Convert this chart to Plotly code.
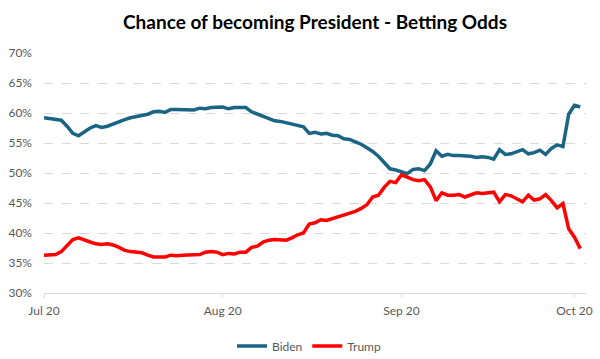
import plotly.graph_objects as go
import pandas as pd

start_date = "2020-07-01"
n_days = 94
dates = pd.date_range(start_date, periods=n_days, freq="D")

biden = [59.2, 59.1, 58.9, 58.8, 57.8, 56.6, 56.2, 56.8, 57.5, 57.9,
         57.6, 57.8, 58.2, 58.5, 58.9, 59.2, 59.4, 59.5, 59.8, 60.2,
         60.3, 60.1, 60.6, 60.6, 60.6, 60.6, 60.5, 60.8, 60.7, 60.9,
         61.0, 61.0, 60.7, 60.9, 60.9, 60.9, 60.2, 59.8, 59.4, 59.1,
         58.7, 58.6, 58.4, 58.2, 58.0, 57.7, 56.6, 56.8, 56.5, 56.6,
         56.3, 56.2, 55.7, 55.6, 55.2, 54.8, 54.2, 53.6, 52.8, 51.8,
         50.7, 50.5, 50.2, 49.9, 50.6, 50.7, 50.4, 51.5, 53.7, 52.8,
         53.1, 52.9, 52.9, 52.9, 52.8, 52.6, 52.7, 52.6, 52.3, 53.9,
         53.1, 53.2, 53.5, 53.9, 53.2, 53.4, 53.8, 53.1, 54.1, 54.7,
         54.4, 59.8, 61.3, 61.0]

trump = [36.3, 36.4, 36.4, 36.9, 37.9, 38.9, 39.2, 38.8, 38.5, 38.2,
         38.1, 38.2, 38.0, 37.6, 37.1, 36.9, 36.8, 36.7, 36.3, 36.0,
         36.0, 36.0, 36.3, 36.2, 36.3, 36.3, 36.4, 36.4, 36.8, 36.9,
         36.8, 36.4, 36.6, 36.5, 36.8, 36.8, 37.6, 37.8, 38.5, 38.8,
         38.9, 38.9, 38.8, 39.2, 39.7, 40.0, 41.5, 41.7, 42.2, 42.1,
         42.4, 42.7, 43.1, 43.3, 43.6, 44.1, 44.7, 46.0, 46.3, 47.6,
         48.6, 48.4, 49.7, 49.3, 48.9, 48.7, 48.9, 47.7, 45.4, 46.7,
         46.3, 46.3, 46.4, 46.0, 46.4, 46.7, 46.6, 46.7, 46.8, 45.2,
         46.4, 46.2, 45.7, 45.2, 46.3, 45.5, 45.7, 46.4, 45.4, 44.2,
         44.9, 40.7, 39.3, 37.4]

y_ticks = [30, 35, 40, 45, 50, 55, 60, 65, 70]
y_tick_labels = [f"{v}%" for v in y_ticks]
x_ticks = ["2020-07-01", "2020-08-01", "2020-09-01", "2020-10-01"]
x_tick_labels = ["Jul 20", "Aug 20", "Sep 20", "Oct 20"]

font_family = "Lato, Carlito, Calibri, sans-serif"
grey = "#595959"

fig = go.Figure()
fig.add_trace(go.Scatter(x=dates, y=biden, mode="lines", name="Biden",
                         line=dict(color="#1B6584", width=3.5)))
fig.add_trace(go.Scatter(x=dates, y=trump, mode="lines", name="Trump",
                         line=dict(color="#FF0000", width=3.5)))

fig.update_layout(
    width=600, height=359,
    margin=dict(l=44, r=14, t=53, b=66, autoexpand=False),
    paper_bgcolor="white", plot_bgcolor="white",
    font=dict(family=font_family, color=grey, size=12),
    title=dict(text="<b>Chance of becoming President - Betting Odds</b>",
               x=0.5, xanchor="center", xref="paper",
               yref="container", y=1 - 22 / 359, yanchor="middle",
               font=dict(family=font_family, size=19, color="black")),
    showlegend=True,
    legend=dict(orientation="h", x=0.5 - 6 / 542, xanchor="center",
                y=-53 / 240, yanchor="middle",
                font=dict(size=12, color=grey), itemwidth=30,
                traceorder="normal"),
    xaxis=dict(
        range=["2020-07-01", "2020-10-03"],
        tickvals=x_ticks, ticktext=x_tick_labels,
        showgrid=False, showline=True, linecolor="#D9D9D9", linewidth=1,
        ticks="outside", ticklen=4, tickcolor="#D9D9D9",
        tickfont=dict(size=12, color=grey), zeroline=False,
        ticklabelstandoff=3,
    ),
    yaxis=dict(
        range=[30, 70], tickvals=y_ticks, ticktext=y_tick_labels,
        showgrid=True, gridcolor="#D9D9D9", griddash="dash", gridwidth=1,
        showline=False, zeroline=False, ticks="",
        tickfont=dict(size=12, color=grey),
        ticklabelstandoff=11,
    ),
)

fig.write_html(
    "out.html",
    config={"displayModeBar": False},
    post_script="document.body.style.margin='0';document.body.style.padding='0';",
)
